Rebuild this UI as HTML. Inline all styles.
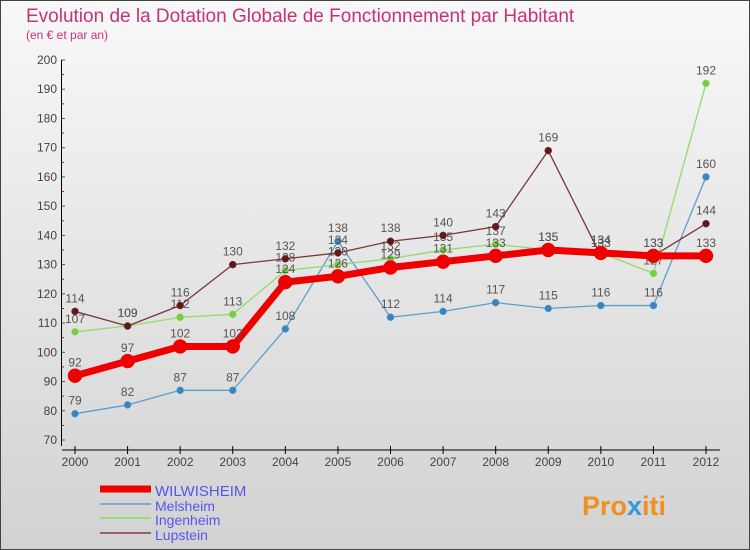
<!DOCTYPE html>
<html><head><meta charset="utf-8">
<style>
body{margin:0;width:750px;height:550px;overflow:hidden;font-family:"Liberation Sans",sans-serif;}
#wrap{position:absolute;left:0;top:0;width:748px;height:548px;border:1px solid #444;background:linear-gradient(#f8f8f8,#d2d2d2);}
</style></head><body>
<div id="wrap"></div>
<svg id="chart" width="750" height="550" style="position:absolute;left:0;top:0">
<text x="26" y="22" font-size="19" fill="#c8336f">Evolution de la Dotation Globale de Fonctionnement par Habitant</text>
<text x="26" y="39" font-size="12" fill="#c8336f">(en € et par an)</text>
</svg>
<script>
const years=[2000,2001,2002,2003,2004,2005,2006,2007,2008,2009,2010,2011,2012];
const yTicks=[70,80,90,100,110,120,130,140,150,160,170,180,190,200];
const wilwisheim=[92,97,102,102,124,126,129,131,133,135,134,133,133];
const melsheim=[79,82,87,87,108,138,112,114,117,115,116,116,160];
const ingenheim=[107,109,112,113,128,130,132,135,137,135,134,127,192];
const lupstein=[114,109,116,130,132,134,138,140,143,169,133,133,144];
const NS='http://www.w3.org/2000/svg';
const svg=document.getElementById('chart');
const x0=75,x1=706,yB=440,yT=60,vMin=70,vMax=200;
function X(i){return x0+(x1-x0)*i/(years.length-1);}
function Y(v){return yB-(v-vMin)*(yB-yT)/(vMax-vMin);}
function mk(t,a,p){const e=document.createElementNS(NS,t);for(const k in a)e.setAttribute(k,a[k]);(p||svg).appendChild(e);return e;}
yTicks.forEach(v=>{
 const t=mk('text',{x:57,y:Y(v)+4,'font-size':12,'text-anchor':'end',fill:'#444'});t.textContent=v;
 
 
 mk('line',{x1:61,x2:65,y1:Y(v),y2:Y(v),stroke:'#555'});
 if(v<200){mk('line',{x1:61,x2:64,y1:Y(v+5),y2:Y(v+5),stroke:'#e00'});}
});
const ya=mk('line',{x1:61.5,x2:61.5,y1:yT,y2:yB+6,stroke:'#000'});


const xa=mk('line',{x1:62,x2:720,y1:450,y2:450,stroke:'#000'});


years.forEach((yr,i)=>{
 mk('line',{x1:X(i),x2:X(i),y1:446,y2:454,stroke:'#000'});
 const t=mk('text',{x:X(i),y:466,'font-size':12,'text-anchor':'middle',fill:'#444'});t.textContent=yr;
 
 
});
function series(data,color,dot,w,r,name){
 const g=mk('g',{});
 
 
 mk('polyline',{points:data.map((v,i)=>X(i)+','+Y(v)).join(' '),fill:'none',stroke:color,'stroke-width':w,'stroke-linejoin':'round'},g);
 data.forEach((v,i)=>{
  const c=mk('circle',{cx:X(i),cy:Y(v),r:r,fill:dot,stroke:color,'stroke-width':0.5},g);
  
  
  const t=mk('text',{x:X(i),y:Y(v)-9,'font-size':12,'text-anchor':'middle',fill:'#555'},g);t.textContent=v;
  
  
 });
}
series(melsheim,'#5b9fcf','#3a85c0',1.3,3.5,'melsheim');
series(ingenheim,'#8fdc6a','#77cc44',1.3,3.5,'ingenheim');
series(lupstein,'#7a3535','#5e1a1a',1.3,3.5,'lupstein');
series(wilwisheim,'#ee0000','#ee0000',7,7,'wilwisheim');
const leg=[['WILWISHEIM','#ee0000',7,494],['Melsheim','#7aaed0',2,509],['Ingenheim','#99dd77',2,523],['Lupstein','#9a6060',2,538]];
leg.forEach(l=>{
 const g=mk('g',{});
 
 
 mk('line',{x1:100,x2:151,y1:l[3]-5,y2:l[3]-5,stroke:l[1],'stroke-width':l[2]},g);
 const t=mk('text',{x:155,y:l[3]+2,'font-size':l[0]=='WILWISHEIM'?15:14,fill:'#5555ee'},g);t.textContent=l[0];
});
const lg=mk('text',{x:582,y:515,'font-size':27,'font-weight':'bold',fill:'#f09020'});
lg.innerHTML='Pro<tspan fill="#3399dd">x</tspan>iti';


</script>
</body></html>
